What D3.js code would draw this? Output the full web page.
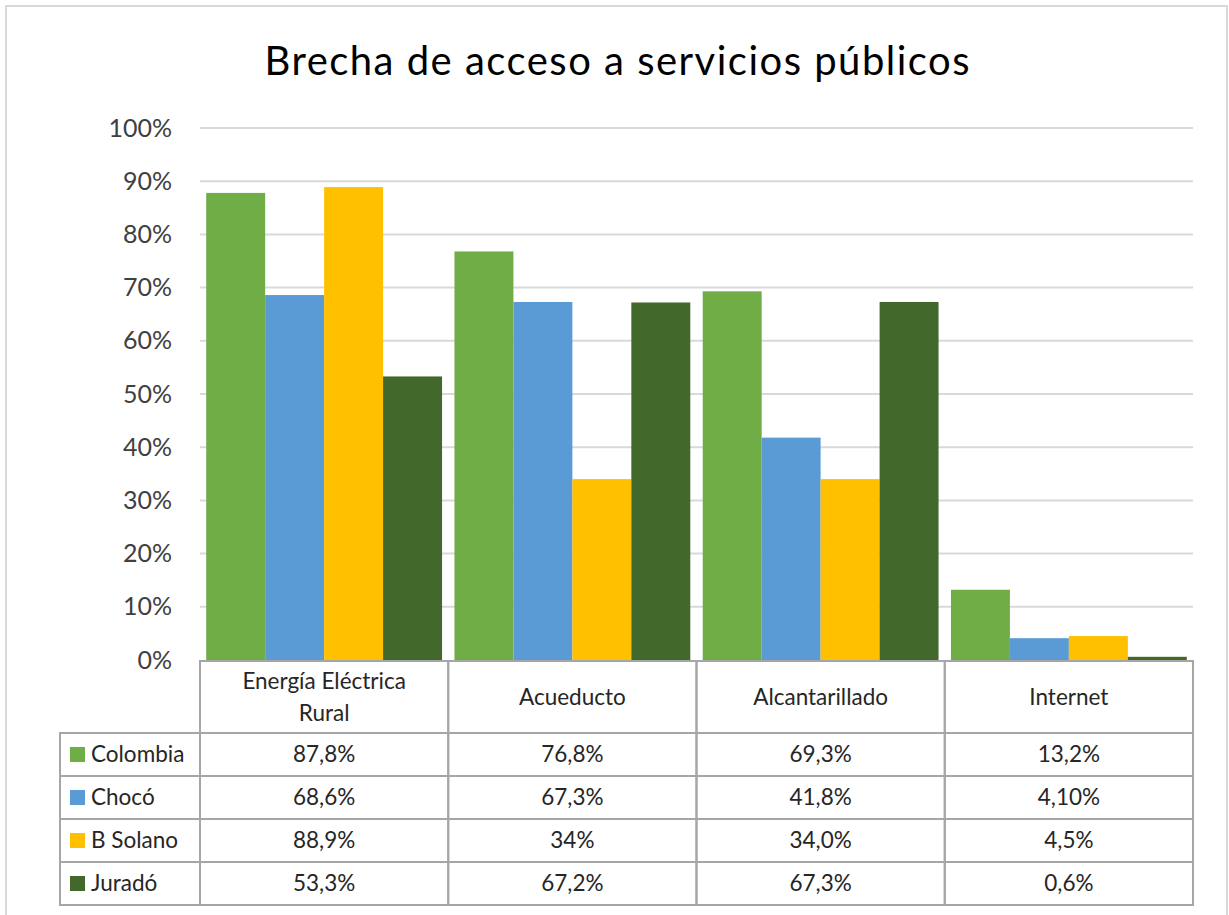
<!DOCTYPE html>
<html>
<head>
<meta charset="utf-8">
<script src="https://cdn.jsdelivr.net/npm/d3@7"></script>
<style>
  body { margin: 0; background: #fff; }
  svg { font-family: Lato, 'Open Sans', sans-serif; }
</style>
</head>
<body>
<script>
// data
const categories = ['Energía Eléctrica Rural', 'Acueducto', 'Alcantarillado', 'Internet'];
const catLines = [['Energía Eléctrica', 'Rural'], ['Acueducto'], ['Alcantarillado'], ['Internet']];
const seriesNames = ['Colombia', 'Chocó', 'B Solano', 'Juradó'];
const colombia = [0.878, 0.768, 0.693, 0.132];
const choco = [0.686, 0.673, 0.418, 0.041];
const bSolano = [0.889, 0.34, 0.34, 0.045];
const jurado = [0.533, 0.672, 0.673, 0.006];
const labels = [
  ['87,8%', '76,8%', '69,3%', '13,2%'],
  ['68,6%', '67,3%', '41,8%', '4,10%'],
  ['88,9%', '34%', '34,0%', '4,5%'],
  ['53,3%', '67,2%', '67,3%', '0,6%']
];
const yTicks = [0, 0.1, 0.2, 0.3, 0.4, 0.5, 0.6, 0.7, 0.8, 0.9, 1];
const colors = ['#70AD47', '#5B9BD5', '#FFC000', '#43682B'];
const series = [colombia, choco, bSolano, jurado];

let width = 1229, height = 915;
let svg = d3.select('body').append('svg')
  .attr('width', width)
  .attr('height', height);

// outer chart border
svg.append('rect')
  .attr('x', 6).attr('y', 6)
  .attr('width', 1221).attr('height', 920)
  .attr('fill', 'none')
  .attr('stroke', '#d9d9d9')
  .attr('stroke-width', 2);

svg.append('text')
  .attr('x', 617).attr('y', 75)
  .attr('text-anchor', 'middle')
  .attr('font-size', 40)
  .attr('textLength', 705)
  .attr('lengthAdjust', 'spacing')
  .attr('fill', '#000')
  .text('Brecha de acceso a servicios públicos');

let pLeft = 200, pRight = 1193, pTop = 128, pBottom = 660;

let x = d3.scaleBand().domain(categories).range([pLeft, pRight])
  .paddingInner(0.05).paddingOuter(0.025);
let xs = d3.scaleBand().domain(seriesNames).range([0, x.bandwidth()]);
let y = d3.scaleLinear().domain([0, 1]).range([pBottom, pTop]);

// gridlines
svg.append('g').selectAll('line').data(yTicks.filter(d => d > 0)).enter().append('line')
  .attr('x1', pLeft).attr('x2', pRight)
  .attr('y1', d => y(d)).attr('y2', d => y(d))
  .attr('stroke', '#d9d9d9').attr('stroke-width', 2);

// y axis labels
let yAxis = d3.axisLeft(y).tickValues(yTicks).tickFormat(d3.format('.0%')).tickSize(0).tickPadding(28);
let ya = svg.append('g').attr('transform', 'translate(' + pLeft + ',0)').call(yAxis);
ya.select('.domain').remove();
ya.selectAll('text').attr('font-size', 25).attr('fill', '#404040')
  .attr('font-family', 'Lato, sans-serif');

// bars
series.forEach((vals, si) => {
  svg.append('g').selectAll('rect').data(vals).enter().append('rect')
    .attr('x', (d, i) => x(categories[i]) + xs(seriesNames[si]))
    .attr('width', xs.bandwidth())
    .attr('y', d => y(d))
    .attr('height', d => y(0) - y(d))
    .attr('fill', colors[si]);
});

// data table
let tableTop = 661, headerH = 72, rowH = 43, keyLeft = 60;
let colW = (pRight - pLeft) / 4;
let fs = 22.5;
let tg = svg.append('g');
let stroke = '#a6a6a6';
categories.forEach((c, i) => {
  let x0 = pLeft + i * colW;
  tg.append('rect').attr('x', x0).attr('y', tableTop)
    .attr('width', colW).attr('height', headerH)
    .attr('fill', 'none').attr('stroke', stroke).attr('stroke-width', 2);
  let lines = catLines[i];
  let cy = tableTop + headerH / 2 - (lines.length - 1) * 16;
  lines.forEach((l, li) => {
    tg.append('text').attr('x', x0 + colW / 2).attr('y', cy + li * 32)
      .attr('dy', '0.35em').attr('text-anchor', 'middle')
      .attr('font-size', fs).attr('fill', '#262626').text(l);
  });
});
seriesNames.forEach((s, si) => {
  let ry = tableTop + headerH + si * rowH;
  tg.append('rect').attr('x', keyLeft).attr('y', ry)
    .attr('width', pLeft - keyLeft).attr('height', rowH)
    .attr('fill', 'none').attr('stroke', stroke).attr('stroke-width', 2);
  tg.append('rect').attr('x', 70).attr('y', ry + rowH / 2 - 7.5)
    .attr('width', 15).attr('height', 15).attr('fill', colors[si]);
  tg.append('text').attr('x', 91).attr('y', ry + rowH / 2).attr('dy', '0.35em')
    .attr('font-size', fs).attr('fill', '#262626').text(s);
  categories.forEach((c, i) => {
    let x0 = pLeft + i * colW;
    tg.append('rect').attr('x', x0).attr('y', ry)
      .attr('width', colW).attr('height', rowH)
      .attr('fill', 'none').attr('stroke', stroke).attr('stroke-width', 2);
    tg.append('text').attr('x', x0 + colW / 2).attr('y', ry + rowH / 2)
      .attr('dy', '0.35em').attr('text-anchor', 'middle')
      .attr('font-size', fs).attr('fill', '#262626').text(labels[si][i]);
  });
});
</script>
</body>
</html>
